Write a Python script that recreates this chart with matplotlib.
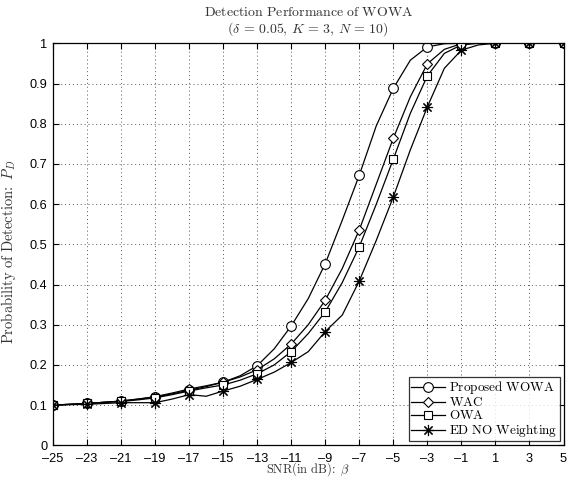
import numpy as np
import matplotlib
matplotlib.use("Agg")
import matplotlib.pyplot as plt

plt.rcParams['mathtext.fontset'] = 'cm'
plt.rcParams['font.family'] = ['Liberation Sans', 'DejaVu Sans']

snr = list(range(-25, 6))

wowa = [0.100, 0.102, 0.104, 0.107, 0.110, 0.115, 0.120, 0.128, 0.137, 0.146,
        0.157, 0.173, 0.198, 0.240, 0.297, 0.365, 0.452, 0.560, 0.672, 0.795,
        0.888, 0.958, 0.991, 0.999, 1.0, 1.0, 1.0, 1.0, 1.0, 1.0, 1.0]
wac = [0.100, 0.102, 0.104, 0.107, 0.110, 0.115, 0.121, 0.130, 0.140, 0.148,
       0.157, 0.170, 0.188, 0.215, 0.252, 0.300, 0.361, 0.440, 0.536, 0.650,
       0.764, 0.867, 0.949, 0.985, 0.999, 1.0, 1.0, 1.0, 1.0, 1.0, 1.0]
owa = [0.100, 0.102, 0.104, 0.107, 0.109, 0.113, 0.118, 0.126, 0.135, 0.143,
       0.150, 0.162, 0.178, 0.200, 0.233, 0.278, 0.332, 0.405, 0.494, 0.600,
       0.712, 0.826, 0.919, 0.975, 0.996, 1.0, 1.0, 1.0, 1.0, 1.0, 1.0]
ed = [0.100, 0.101, 0.102, 0.104, 0.106, 0.106, 0.106, 0.115, 0.126, 0.122,
      0.135, 0.147, 0.164, 0.182, 0.206, 0.233, 0.283, 0.324, 0.409, 0.510,
      0.618, 0.735, 0.842, 0.938, 0.983, 0.996, 1.0, 1.0, 1.0, 1.0, 1.0]

labels = ['Proposed WOWA', 'WAC', 'OWA', 'ED NO Weighting']
series = [wowa, wac, owa, ed]
markers = ['o', 'D', 's', (8, 2, 0)]
msizes = [7, 5.5, 6, 8]

xticks = list(range(-25, 6, 2))
yticks = [round(0.1 * i, 1) for i in range(11)]
yticklabels = ['0', '0.1', '0.2', '0.3', '0.4', '0.5', '0.6', '0.7', '0.8', '0.9', '1']

W, H = 573, 479
fig = plt.figure(figsize=(W / 100, H / 100), dpi=100)
ax = fig.add_axes([53 / W, 1 - 445.3 / H, (563.5 - 53) / W, (445.3 - 43.3) / H])

for y, lab, m, ms in zip(series, labels, markers, msizes):
    ax.plot(snr, y, color='black', linewidth=0.9, marker=m, markevery=2,
            markersize=ms, markerfacecolor='white',
            markeredgecolor='black', markeredgewidth=0.8,
            label=r'$\mathrm{' + lab.replace(' ', r'\ ') + '}$')

ax.set_xlim(-25, 5)
ax.set_ylim(0, 1)
ax.set_xticks(xticks)
ax.set_xticklabels([str(t).replace('-', '\u2013') for t in xticks])
ax.set_yticks(yticks)
ax.set_yticklabels(yticklabels)
ax.tick_params(direction='in', top=True, right=True, labelsize=9.2, length=4,
               width=0.8, pad=4)
ax.tick_params(axis='x', pad=5.5)
for sp in ax.spines.values():
    sp.set_linewidth(0.9)
ax.grid(True, linestyle=(0, (1, 3)), color='#555555', linewidth=0.7)

cx = (53 + 563.5) / 2 / W
fig.text(cx, 1 - 12 / H, r'$\mathrm{Detection\ Performance\ of\ WOWA}$',
         fontsize=10, color='#333333', ha='center', va='center')
fig.text(cx, 1 - 29 / H, r'$(\delta\,=\,0.05,\,K\,=\,3,\,N\,=\,10)$',
         fontsize=10, color='#333333', ha='center', va='center')
fig.text(cx, 0.6 / H, r'$\mathrm{SNR(in\ dB)}\!:\ \beta$',
         fontsize=9, color='#333333', ha='center', va='bottom')
ax.set_ylabel(r'$\mathrm{Probability\ of\ Detection}\!:\ P_D$', fontsize=10.5,
              color='#333333', labelpad=5)
ax.yaxis.set_label_coords(-0.068, 0.48)

leg = ax.legend(loc='lower right', fontsize=9.5, frameon=True, fancybox=False,
                edgecolor='black', borderpad=0.15, labelspacing=0.0,
                handlelength=2.6, handletextpad=0.3, borderaxespad=0.3)
leg.get_frame().set_linewidth(0.9)

fig.savefig('out.png', dpi=100)
